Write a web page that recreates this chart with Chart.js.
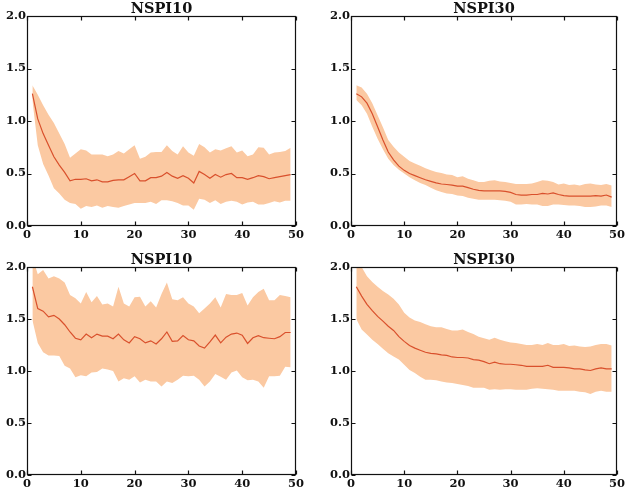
<!DOCTYPE html>
<html>
<head>
<meta charset="utf-8">
<script src="https://cdn.jsdelivr.net/npm/chart.js@4.4.1/dist/chart.umd.min.js"></script>
<style>
  body { margin: 0; background: #fff; }
  canvas { position: absolute; }
</style>
</head>
<body>
<canvas id="topLeft" width="313" height="240" style="left:0px;top:0px"></canvas>
<canvas id="topRight" width="303" height="240" style="left:324px;top:0px"></canvas>
<canvas id="bottomLeft" width="313" height="238" style="left:0px;top:251px"></canvas>
<canvas id="bottomRight" width="303" height="238" style="left:324px;top:251px"></canvas>
<script>
const epochs = [1, 2, 3, 4, 5, 6, 7, 8, 9, 10, 11, 12, 13, 14, 15, 16, 17, 18, 19, 20,
  21, 22, 23, 24, 25, 26, 27, 28, 29, 30, 31, 32, 33, 34, 35, 36, 37, 38, 39, 40,
  41, 42, 43, 44, 45, 46, 47, 48, 49]
const xTicks = [0, 10, 20, 30, 40, 50]
const yTicks = [0.0, 0.5, 1.0, 1.5, 2.0]

// top row
const nspi10TopMean = [1.26, 1.02, 0.88, 0.77, 0.66, 0.58, 0.51, 0.43, 0.445, 0.445,
  0.45, 0.43, 0.44, 0.42, 0.42, 0.435, 0.44, 0.44, 0.47, 0.50,
  0.43, 0.43, 0.46, 0.46, 0.475, 0.51, 0.475, 0.455, 0.48, 0.455,
  0.41, 0.52, 0.49, 0.455, 0.49, 0.465, 0.49, 0.50, 0.46, 0.46,
  0.445, 0.46, 0.48, 0.47, 0.45, 0.46, 0.47, 0.48, 0.49]
const nspi10TopUpper = [1.34, 1.25, 1.15, 1.06, 0.98, 0.88, 0.78, 0.65, 0.69, 0.73,
  0.72, 0.68, 0.68, 0.68, 0.665, 0.68, 0.715, 0.69, 0.73, 0.77,
  0.64, 0.66, 0.70, 0.705, 0.705, 0.77, 0.715, 0.68, 0.76, 0.70,
  0.67, 0.78, 0.75, 0.70, 0.73, 0.72, 0.74, 0.76, 0.70, 0.72,
  0.665, 0.68, 0.75, 0.745, 0.68, 0.70, 0.705, 0.715, 0.745]
const nspi10TopLower = [1.20, 0.77, 0.59, 0.48, 0.36, 0.31, 0.25, 0.22, 0.21, 0.165,
  0.19, 0.18, 0.195, 0.175, 0.19, 0.18, 0.175, 0.19, 0.205, 0.22,
  0.22, 0.22, 0.23, 0.21, 0.245, 0.245, 0.235, 0.22, 0.195, 0.195,
  0.155, 0.26, 0.25, 0.22, 0.245, 0.21, 0.23, 0.24, 0.23, 0.205,
  0.225, 0.23, 0.205, 0.205, 0.22, 0.235, 0.225, 0.24, 0.24]

const nspi30TopMean = [1.26, 1.23, 1.17, 1.07, 0.945, 0.82, 0.705, 0.63, 0.57, 0.53,
  0.50, 0.48, 0.46, 0.44, 0.425, 0.41, 0.40, 0.395, 0.39, 0.38,
  0.38, 0.365, 0.35, 0.34, 0.335, 0.335, 0.335, 0.335, 0.33, 0.32,
  0.30, 0.295, 0.295, 0.30, 0.30, 0.31, 0.305, 0.315, 0.30, 0.29,
  0.285, 0.285, 0.285, 0.285, 0.285, 0.29, 0.285, 0.295, 0.275]
const nspi30TopUpper = [1.34, 1.32, 1.26, 1.17, 1.055, 0.94, 0.82, 0.755, 0.70, 0.66,
  0.62, 0.595, 0.575, 0.55, 0.53, 0.515, 0.505, 0.49, 0.485, 0.465,
  0.475, 0.45, 0.435, 0.42, 0.42, 0.43, 0.435, 0.425, 0.42, 0.41,
  0.40, 0.40, 0.40, 0.405, 0.42, 0.435, 0.43, 0.42, 0.395, 0.405,
  0.39, 0.395, 0.385, 0.40, 0.405, 0.395, 0.39, 0.40, 0.385]
const nspi30TopLower = [1.20, 1.15, 1.07, 0.945, 0.83, 0.73, 0.64, 0.58, 0.535, 0.50,
  0.465, 0.435, 0.41, 0.39, 0.365, 0.34, 0.325, 0.31, 0.305, 0.29,
  0.285, 0.27, 0.26, 0.25, 0.25, 0.25, 0.25, 0.245, 0.24, 0.23,
  0.205, 0.205, 0.21, 0.205, 0.205, 0.19, 0.19, 0.205, 0.205, 0.20,
  0.195, 0.195, 0.19, 0.18, 0.18, 0.185, 0.195, 0.195, 0.18]

// bottom row
const nspi10BottomMean = [1.81, 1.60, 1.575, 1.52, 1.535, 1.50, 1.445, 1.375, 1.315, 1.30,
  1.355, 1.32, 1.355, 1.335, 1.335, 1.31, 1.355, 1.30, 1.27, 1.33,
  1.31, 1.27, 1.29, 1.26, 1.31, 1.375, 1.285, 1.29, 1.34, 1.30,
  1.29, 1.24, 1.22, 1.28, 1.345, 1.27, 1.325, 1.355, 1.365, 1.345,
  1.265, 1.32, 1.34, 1.32, 1.315, 1.31, 1.33, 1.37, 1.37]
const nspi10BottomUpper = [2.10, 1.93, 1.97, 1.89, 1.91, 1.89, 1.85, 1.73, 1.70, 1.65,
  1.76, 1.66, 1.72, 1.64, 1.65, 1.62, 1.81, 1.65, 1.62, 1.71,
  1.715, 1.62, 1.67, 1.61, 1.74, 1.85, 1.69, 1.68, 1.71, 1.65,
  1.62, 1.555, 1.60, 1.65, 1.71, 1.61, 1.74, 1.73, 1.73, 1.75,
  1.63, 1.71, 1.76, 1.79, 1.68, 1.68, 1.73, 1.72, 1.71]
const nspi10BottomLower = [1.49, 1.27, 1.18, 1.15, 1.15, 1.145, 1.05, 1.025, 0.94, 0.96,
  0.95, 0.985, 0.99, 1.025, 1.015, 1.00, 0.90, 0.93, 0.915, 0.95,
  0.89, 0.915, 0.90, 0.90, 0.85, 0.90, 0.885, 0.915, 0.955, 0.95,
  0.955, 0.915, 0.85, 0.90, 0.97, 0.945, 0.915, 0.985, 1.005, 0.94,
  0.91, 0.915, 0.90, 0.84, 0.95, 0.95, 0.955, 1.04, 1.035]

const nspi30BottomMean = [1.81, 1.72, 1.64, 1.58, 1.525, 1.48, 1.43, 1.39, 1.33, 1.285,
  1.245, 1.22, 1.20, 1.18, 1.17, 1.165, 1.155, 1.15, 1.135, 1.13,
  1.13, 1.125, 1.11, 1.105, 1.09, 1.07, 1.085, 1.07, 1.065, 1.065,
  1.06, 1.055, 1.045, 1.045, 1.045, 1.045, 1.055, 1.035, 1.035, 1.035,
  1.03, 1.02, 1.02, 1.01, 1.005, 1.02, 1.03, 1.02, 1.02]
const nspi30BottomUpper = [2.02, 2.00, 1.91, 1.855, 1.81, 1.77, 1.735, 1.695, 1.64, 1.56,
  1.515, 1.485, 1.47, 1.45, 1.43, 1.42, 1.42, 1.405, 1.39, 1.39,
  1.40, 1.375, 1.355, 1.33, 1.315, 1.30, 1.32, 1.30, 1.285, 1.275,
  1.27, 1.26, 1.25, 1.25, 1.26, 1.25, 1.27, 1.25, 1.25, 1.26,
  1.24, 1.245, 1.235, 1.23, 1.235, 1.25, 1.26, 1.26, 1.245]
const nspi30BottomLower = [1.50, 1.40, 1.35, 1.30, 1.26, 1.215, 1.17, 1.14, 1.11, 1.06,
  1.01, 0.98, 0.945, 0.915, 0.915, 0.91, 0.90, 0.89, 0.885, 0.875,
  0.865, 0.855, 0.84, 0.84, 0.84, 0.82, 0.825, 0.82, 0.825, 0.825,
  0.82, 0.82, 0.82, 0.83, 0.835, 0.83, 0.825, 0.82, 0.81, 0.81,
  0.81, 0.81, 0.80, 0.795, 0.78, 0.80, 0.81, 0.80, 0.80]

const lineColor = '#d9502c'
const bandColor = '#fbc9a2'
const fontFamily = '"DejaVu Serif", serif'

// matplotlib-ish box frame with inward ticks on every side
const frameTicks = {
  id: 'frameTicks',
  afterDraw(chart) {
    const { ctx, chartArea: a, scales: { x, y } } = chart
    const l = Math.round(a.left) + 0.5
    const r = Math.round(a.right) - 0.5
    const t = Math.round(a.top) + 0.5
    const b = Math.round(a.bottom) - 0.5
    ctx.save()
    ctx.strokeStyle = '#111'
    ctx.lineWidth = 1.2
    ctx.strokeRect(l, t, r - l, b - t)
    ctx.beginPath()
    xTicks.forEach((v) => {
      const px = Math.round(x.getPixelForValue(v)) + 0.5
      ctx.moveTo(px, b)
      ctx.lineTo(px, b - 4)
      ctx.moveTo(px, t)
      ctx.lineTo(px, t + 4)
    })
    yTicks.forEach((v) => {
      const py = Math.round(y.getPixelForValue(v)) + 0.5
      ctx.moveTo(l, py)
      ctx.lineTo(l + 4, py)
      ctx.moveTo(r, py)
      ctx.lineTo(r - 4, py)
    })
    ctx.stroke()
    ctx.restore()
  },
}

const makePanel = (id, title, mean, upper, lower, rightPad) => {
  new Chart(document.getElementById(id), {
    type: 'line',
    data: {
      labels: epochs,
      datasets: [
        {
          data: mean,
          borderColor: lineColor,
          borderWidth: 1.2,
          pointRadius: 0,
          fill: false,
        },
        {
          data: upper,
          borderWidth: 0,
          pointRadius: 0,
          backgroundColor: bandColor,
          fill: '+1',
        },
        {
          data: lower,
          borderWidth: 0,
          pointRadius: 0,
          fill: false,
        },
      ],
    },
    options: {
      responsive: false,
      animation: false,
      devicePixelRatio: 1,
      layout: { padding: { top: 0, right: rightPad, bottom: 0, left: 0 } },
      plugins: {
        legend: { display: false },
        tooltip: { enabled: false },
        title: {
          display: true,
          text: title,
          fullSize: false,
          color: '#111',
          padding: { top: 2, bottom: 0 },
          font: { family: fontFamily, size: 14.5, weight: 'bold', lineHeight: '14px' },
        },
      },
      scales: {
        x: {
          type: 'linear',
          min: 0,
          max: 50,
          afterFit(scale) { scale.height = 14 },
          afterBuildTicks(scale) { scale.ticks = xTicks.map((v) => ({ value: v })) },
          grid: { display: false, drawTicks: false },
          border: { display: false },
          ticks: {
            padding: 2,
            color: '#111',
            maxRotation: 0,
            autoSkip: false,
            font: { family: fontFamily, size: 11.5, weight: 'bold' },
          },
        },
        y: {
          min: 0,
          max: 2,
          afterFit(scale) { scale.width = 27 },
          afterBuildTicks(scale) { scale.ticks = yTicks.map((v) => ({ value: v })) },
          grid: { display: false, drawTicks: false },
          border: { display: false },
          ticks: {
            padding: 1,
            color: '#111',
            autoSkip: false,
            font: { family: fontFamily, size: 11.5, weight: 'bold' },
            callback: (v) => Number(v).toFixed(1),
          },
        },
      },
    },
    plugins: [frameTicks],
  })
}

makePanel('topLeft', 'NSPI10', nspi10TopMean, nspi10TopUpper, nspi10TopLower, 17)
makePanel('topRight', 'NSPI30', nspi30TopMean, nspi30TopUpper, nspi30TopLower, 7)
makePanel('bottomLeft', 'NSPI10', nspi10BottomMean, nspi10BottomUpper, nspi10BottomLower, 17)
makePanel('bottomRight', 'NSPI30', nspi30BottomMean, nspi30BottomUpper, nspi30BottomLower, 7)
</script>
</body>
</html>
